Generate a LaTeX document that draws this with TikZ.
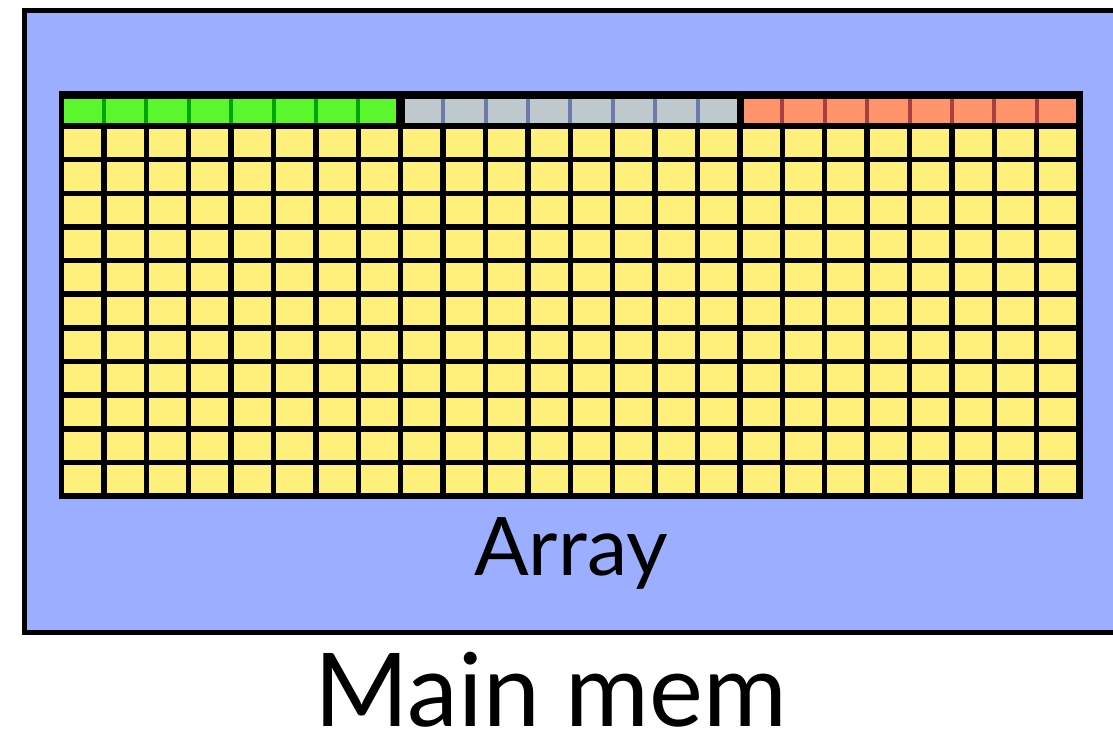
\documentclass[tikz,border=0pt]{standalone}
\usepackage{fontspec}
\setmainfont{Lato}
\usepackage{xcolor}
\usepackage{tikz}
\usetikzlibrary{positioning,calc}

\definecolor{membg}{RGB}{156,174,255}
\definecolor{cellyellow}{RGB}{254,240,122}
\definecolor{lgreen}{RGB}{91,247,44}
\definecolor{dgreen}{RGB}{0,165,0}
\definecolor{lgray}{RGB}{190,200,205}
\definecolor{dgray}{RGB}{106,123,174}
\definecolor{lsalmon}{RGB}{255,148,106}
\definecolor{dsalmon}{RGB}{168,64,64}

\begin{document}
\begin{tikzpicture}[
  x=0.2mm, y=-0.2mm,
  membox/.style={draw=black, line width=1mm, fill=membg},
  cell/.style={fill=cellyellow},
  sep/.style={line width=0.8mm},
  lbl/.style={anchor=base, inner sep=0pt},
]
\useasboundingbox (0,0) rectangle (1113,732);

% memory block (runs off the right edge)
\draw[membox] (24.5,10.5) rectangle (1150,632);

% array frame
\fill[black] (59,91) rectangle (1083,499);

% header row: three groups of eight
\fill[lgreen]  (64,99)  rectangle (396,123);
\fill[lgray]   (405,99) rectangle (737,123);
\fill[lsalmon] (744,99) rectangle (1076,123);
\foreach \c in {1,...,7} {
  \draw[sep, dgreen]  ({61.5+\c*42.4},99) -- ({61.5+\c*42.4},123);
  \draw[sep, dgray]   ({61.5+(\c+8)*42.4},99) -- ({61.5+(\c+8)*42.4},123);
  \draw[sep, dsalmon] ({61.5+(\c+16)*42.4},99) -- ({61.5+(\c+16)*42.4},123);
}

% 24 x 11 cells
\foreach \c in {0,...,23}
  \foreach \r in {0,...,10}
    \fill[cell] ({61.5+\c*42.4+2.75},{126+\r*33.64+2.75})
      rectangle ({61.5+(\c+1)*42.4-2.75},{126+(\r+1)*33.64-2.75});

\node[lbl, font=\fontsize{46}{48}\selectfont] (array) at (571,575) {Array};
\node[lbl, font=\fontsize{58}{60}\selectfont] (mainmem) at (551,726) {Main mem};
\end{tikzpicture}
\end{document}
